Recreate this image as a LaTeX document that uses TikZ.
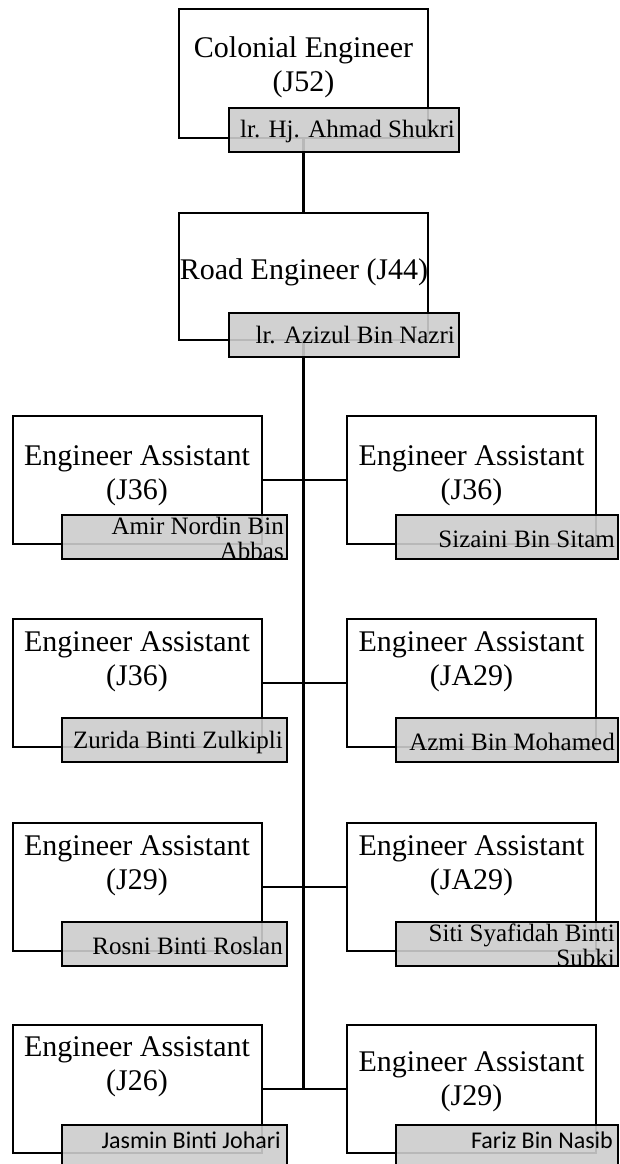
\documentclass[tikz,border=0pt]{standalone}
\usepackage{fontspec}
\setmainfont{Liberation Serif}
\newfontfamily\namesans{Carlito}
\definecolor{barfill}{RGB}{205,205,205}
\begin{document}
\begin{tikzpicture}[x=1pt,y=-1pt,
  post/.style={draw=black, line width=2pt, fill=white, inner sep=0pt, outer sep=0pt, minimum width=249pt},
  title/.style={align=center, inner sep=0pt, font=\fontsize{30}{34}\selectfont},
  namebar/.style={draw=black, line width=2pt, fill=barfill, fill opacity=0.9, draw opacity=1, inner sep=0pt, outer sep=0pt, minimum height=44pt},
  nametext/.style={anchor=east, align=right, inner sep=0pt, font=\fontsize{25}{25}\selectfont},
  sanstext/.style={anchor=east, align=right, inner sep=0pt, font=\namesans\fontsize{24}{25}\selectfont},
  link/.style={line width=2pt},
  trunk/.style={line width=2.4pt},
]
\useasboundingbox (0,0) rectangle (619,1164);
\clip (0,0) rectangle (619,1164);

% position boxes
\node[post, minimum height=129pt] (p0) at (303.5,73.5) {};
\node[post, minimum height=127pt] (p1) at (303.5,276.5) {};
\node[post, minimum height=128pt] (l1) at (137,480) {};
\node[post, minimum height=128pt] (r1) at (471.5,480) {};
\node[post, minimum height=128pt] (l2) at (137,682.5) {};
\node[post, minimum height=128pt] (r2) at (471.5,682.5) {};
\node[post, minimum height=128pt] (l3) at (137,886.5) {};
\node[post, minimum height=128pt] (r3) at (471.5,886.5) {};
\node[post, minimum height=128pt] (l4) at (137,1088.5) {};
\node[post, minimum height=128pt] (r4) at (471.5,1088.5) {};

% position titles
\node[title] (p0t) at (303.5,67) {Colonial Engineer\\(J52)};
\node[title] (p1t) at (304,272) {Road Engineer (J44)};
\node[title] (l1t) at (137,476) {Engineer Assistant\\(J36)};
\node[title] (r1t) at (471.5,476) {Engineer Assistant\\(J36)};
\node[title] (l2t) at (137,662) {Engineer Assistant\\(J36)};
\node[title] (r2t) at (471.5,662) {Engineer Assistant\\(JA29)};
\node[title] (l3t) at (137,866) {Engineer Assistant\\(J29)};
\node[title] (r3t) at (471.5,866) {Engineer Assistant\\(JA29)};
\node[title] (l4t) at (137,1067) {Engineer Assistant\\(J26)};
\node[title] (r4t) at (471.5,1082) {Engineer Assistant\\(J29)};

% reporting lines
\draw[trunk] (p0.south) -- (p1.north);
\draw[trunk] (p1.south) -- (p1.south |- l4.east);
\draw[link] (l1.east) -- (r1.west);
\draw[link] (l2.east) -- (r2.west);
\draw[link] (l3.east) -- (r3.west);
\draw[link] (l4.east) -- (r4.west);

% name bars
\node[namebar, minimum width=230pt] (n0) at (344,130) {};
\node[namebar, minimum width=230pt] (n1) at (344,334.5) {};
\node[namebar, minimum width=225pt] (nl1) at (174.5,537) {};
\node[namebar, minimum width=222pt] (nr1) at (507,537) {};
\node[namebar, minimum width=225pt] (nl2) at (174.5,740) {};
\node[namebar, minimum width=222pt] (nr2) at (507,740) {};
\node[namebar, minimum width=225pt] (nl3) at (174.5,944) {};
\node[namebar, minimum width=222pt] (nr3) at (507,944) {};
\node[namebar, minimum width=225pt] (nl4) at (174.5,1147) {};
\node[namebar, minimum width=222pt] (nr4) at (507,1147) {};

% names
\node[nametext] (n0x) at ([xshift=-4pt,yshift=-1pt]n0.east) {lr. Hj. Ahmad Shukri};
\node[nametext] (n1x) at ([xshift=-4pt,yshift=-1pt]n1.east) {lr. Azizul Bin Nazri};
\node[nametext] (nl1x) at ([xshift=-3pt,yshift=-1pt]nl1.east) {Amir Nordin Bin\\Abbas};
\node[nametext] (nr1x) at ([xshift=-3pt,yshift=-2pt]nr1.east) {Sizaini Bin Sitam};
\node[nametext] (nl2x) at ([xshift=-4pt,yshift=-2pt]nl2.east) {Zurida Binti Zulkipli};
\node[nametext] (nr2x) at ([xshift=-3pt,yshift=-2pt]nr2.east) {Azmi Bin Mohamed};
\node[nametext] (nl3x) at ([xshift=-4pt,yshift=-2pt]nl3.east) {Rosni Binti Roslan};
\node[nametext] (nr3x) at ([xshift=-3pt,yshift=-1pt]nr3.east) {Siti Syafidah Binti\\Subki};
\node[sanstext] (nl4x) at ([xshift=-6pt,yshift=7pt]nl4.east) {Jasmin Binti Johari};
\node[sanstext] (nr4x) at ([xshift=-5pt,yshift=7pt]nr4.east) {Fariz Bin Nasib};
\end{tikzpicture}
\end{document}
